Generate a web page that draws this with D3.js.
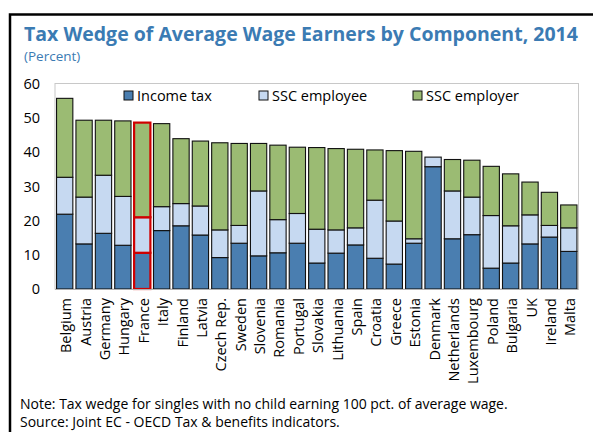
<!DOCTYPE html>
<html>
<head>
<meta charset="utf-8">
<script src="https://cdn.jsdelivr.net/npm/d3@7"></script>
<style>
  body { margin: 0; background: #fff; }
  text { font-family: "Open Sans", "Noto Sans", sans-serif; }
</style>
</head>
<body>
<div id="chart"></div>
<script>
// data (percent)
var countries = ["Belgium","Austria","Germany","Hungary","France","Italy","Finland","Latvia","Czech Rep.","Sweden","Slovenia","Romania","Portugal","Slovakia","Lithuania","Spain","Croatia","Greece","Estonia","Denmark","Netherlands","Luxembourg","Poland","Bulgaria","UK","Ireland","Malta"];
var incomeTax   = [21.9,13.2,16.3,12.8,10.6,17.1,18.5,15.8, 9.2,13.4, 9.7,10.6,13.4, 7.6,10.5,12.9, 9.0, 7.3,13.4,35.8,14.7,15.9, 6.1, 7.6,13.2,15.2,11.0];
var sscEmployee = [10.8,13.7,17.0,14.3,10.4, 7.0, 6.5, 8.5, 8.1, 5.2,19.0, 9.7, 8.7, 9.9, 6.8, 5.0,17.0,12.6, 1.3, 2.8,14.0,11.0,15.4,10.9, 8.5, 3.4, 6.9];
var sscEmployer = [23.1,22.5,16.1,22.1,27.7,24.3,19.0,19.0,25.5,24.0,13.9,21.8,19.4,23.9,23.8,23.0,14.7,20.6,25.6, 0.0, 9.2,10.8,14.4,15.2, 9.6, 9.7, 6.7];
var seriesNames = ["Income tax","SSC employee","SSC employer"];
var seriesColors = ["#4a7eb0","#c6d9f1","#9bbb73"];
var yTicks = [0,10,20,30,40,50,60];
var highlight = "France";

var width = 593, height = 432;

var svg = d3.select("#chart").append("svg")
    .attr("width", width)
    .attr("height", height);

// outer frame
svg.append("rect")
    .attr("x", 10).attr("y", 14.5)
    .attr("width", 600).attr("height", 440)
    .attr("fill", "none")
    .attr("stroke", "#000")
    .attr("stroke-width", 2.5);

svg.append("text")
    .attr("x", 24).attr("y", 41)
    .attr("font-size", "19.5px")
    .attr("font-weight", "bold")
    .attr("fill", "#3b7bb3")
    .text("Tax Wedge of Average Wage Earners by Component, 2014");

svg.append("text")
    .attr("x", 24).attr("y", 61)
    .attr("font-size", "13.5px")
    .attr("fill", "#3b7bb3")
    .text("(Percent)");

var x = d3.scaleBand()
    .domain(countries)
    .range([55, 578.5])
    .paddingInner(0.16)
    .paddingOuter(0.08);

var y = d3.scaleLinear()
    .domain([0, 60])
    .range([289, 84]);

// plot area border
svg.append("rect")
    .attr("x", 55).attr("y", 83.5)
    .attr("width", 523.5).attr("height", 205.5)
    .attr("fill", "none")
    .attr("stroke", "#c8c8c8")
    .attr("stroke-width", 1);

var yAxis = svg.append("g")
    .attr("transform", "translate(40,0)")
    .call(d3.axisLeft(y).tickValues(yTicks).tickSize(0).tickPadding(0));
yAxis.select(".domain").remove();
yAxis.selectAll("text")
    .attr("font-size", "14.5px")
    .attr("fill", "#000")
    .style("font-family", "'Open Sans', sans-serif");

var table = countries.map(function(c, i) {
    return {country: c, "Income tax": incomeTax[i], "SSC employee": sscEmployee[i], "SSC employer": sscEmployer[i]};
});
var stacked = d3.stack().keys(seriesNames)(table);

var layers = svg.append("g").selectAll("g")
    .data(stacked)
    .enter().append("g")
    .attr("fill", function(d, i) { return seriesColors[i]; });

layers.selectAll("rect")
    .data(function(d) { return d; })
    .enter().append("rect")
    .filter(function(d) { return d[1] - d[0] > 0; })
    .attr("x", function(d) { return x(d.data.country); })
    .attr("y", function(d) { return y(d[1]); })
    .attr("width", x.bandwidth())
    .attr("height", function(d) { return y(d[0]) - y(d[1]); })
    .attr("stroke", "#111")
    .attr("stroke-width", 1.1);

// France outlined in red
layers.selectAll("rect")
    .filter(function(d) { return d.data.country == highlight; })
    .attr("stroke", "#d00000")
    .attr("stroke-width", 2.2)
    .raise();

// x axis baseline
svg.append("line")
    .attr("x1", 55).attr("x2", 578.5)
    .attr("y1", 289.5).attr("y2", 289.5)
    .attr("stroke", "#b0b0b0");

svg.append("g").selectAll("text")
    .data(countries)
    .enter().append("text")
    .attr("transform", function(d) {
        return "translate(" + (x(d) + x.bandwidth() / 2 + 6.5) + ",298) rotate(-90)";
    })
    .attr("text-anchor", "end")
    .attr("font-size", "14.5px")
    .text(function(d) { return d; });

// legend
var legendX = [124, 259, 413];
var lg = svg.append("g").selectAll("g")
    .data(seriesNames)
    .enter().append("g")
    .attr("transform", function(d, i) { return "translate(" + legendX[i] + ",91)"; });
lg.append("rect")
    .attr("width", 9).attr("height", 9)
    .attr("fill", function(d, i) { return seriesColors[i]; })
    .attr("stroke", "#111");
lg.append("text")
    .attr("x", 13).attr("y", 9.5)
    .attr("font-size", "14.5px")
    .text(function(d) { return d; });

svg.append("text")
    .attr("x", 20).attr("y", 409)
    .attr("font-size", "14px")
    .text("Note: Tax wedge for singles with no child earning 100 pct. of average wage.");
svg.append("text")
    .attr("x", 20).attr("y", 427)
    .attr("font-size", "14px")
    .text("Source: Joint EC - OECD Tax & benefits indicators.");
</script>
</body>
</html>
